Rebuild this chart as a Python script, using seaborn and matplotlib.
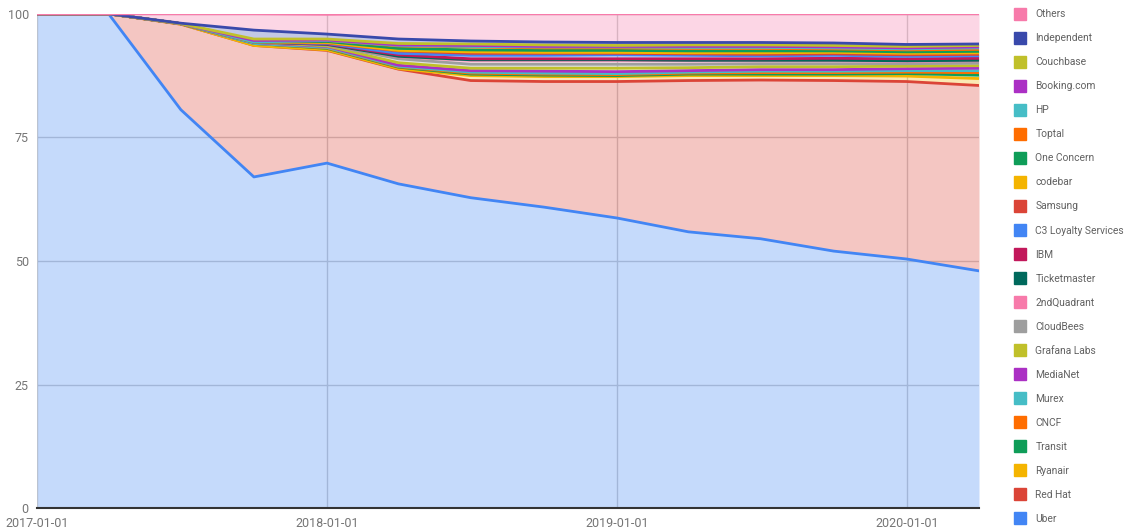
import matplotlib
matplotlib.use('Agg')
import numpy as np
import pandas as pd
import matplotlib.pyplot as plt
import matplotlib.dates as mdates
from matplotlib.lines import Line2D
import seaborn as sns

# quarterly snapshots, share of contributors in %
dates = pd.date_range("2017-01-01", periods=14, freq="QS")

# stacking order: bottom first
uber         = [100, 100, 80.6, 67.0, 69.8, 65.6, 62.8, 60.9, 58.7, 55.9, 54.5, 52.0, 50.4, 48.0]
red_hat      = [0, 0, 17.3, 26.6, 22.8, 23.2, 23.7, 25.4, 27.6, 30.6, 32.1, 34.5, 35.9, 37.5]
ryanair      = [0, 0, 0, 0, 0.1, 0.1, 1.0, 1.0, 1.0, 1.0, 0.9, 1.0, 1.1, 1.4]
transit      = [0, 0, 0.1, 0.4, 0.3, 0.3, 0.3, 0.3, 0.2, 0.3, 0.3, 0.3, 0.5, 0.7]
cncf         = [0, 0, 0, 0, 0.1, 0.1, 0.2, 0.2, 0.2, 0.2, 0.3, 0.3, 0.3, 0.5]
murex        = [0, 0, 0, 0, 0.1, 0.1, 0.2, 0.2, 0.2, 0.2, 0.3, 0.3, 0.3, 0.4]
medianet     = [0, 0, 0, 0.2, 0.2, 0.2, 0.3, 0.4, 0.4, 0.3, 0.3, 0.3, 0.4, 0.5]
grafana      = [0, 0, 0, 0.1, 0.1, 0.5, 0.5, 0.6, 0.7, 0.6, 0.6, 0.6, 0.5, 0.5]
cloudbees    = [0, 0, 0, 0, 0.2, 0.8, 0.8, 0.8, 0.8, 0.7, 0.6, 0.6, 0.5, 0.5]
second_quad  = [0, 0, 0, 0, 0.1, 0.4, 0.8, 0.8, 0.8, 0.7, 0.6, 0.6, 0.5, 0.5]
ticketmaster = [0, 0, 0, 0, 0, 0.1, 0.1, 0.1, 0.1, 0.1, 0.1, 0.1, 0.1, 0.1]
ibm          = [0, 0, 0, 0, 0.1, 0.3, 0.2, 0.2, 0.2, 0.3, 0.3, 0.4, 0.4, 0.4]
c3_loyalty   = [0, 0, 0, 0, 0.1, 0.3, 0.7, 0.7, 0.8, 0.7, 0.6, 0.6, 0.5, 0.5]
samsung      = [0, 0, 0, 0, 0.1, 0.5, 0.4, 0.4, 0.3, 0.3, 0.3, 0.3, 0.3, 0.3]
codebar      = [0, 0, 0, 0, 0.1, 0.1, 0.3, 0.2, 0.2, 0.2, 0.3, 0.3, 0.3, 0.3]
one_concern  = [0, 0, 0, 0, 0.2, 0.4, 0.4, 0.4, 0.4, 0.4, 0.4, 0.3, 0.3, 0.3]
toptal       = [0, 0, 0, 0, 0.2, 0.5, 0.6, 0.5, 0.5, 0.5, 0.5, 0.4, 0.4, 0.4]
hp           = [0, 0, 0, 0, 0, 0.1, 0.1, 0.2, 0.2, 0.2, 0.2, 0.2, 0.2, 0.3]
booking      = [0, 0, 0, 0.3, 0.1, 0.1, 0.2, 0.1, 0.1, 0.2, 0.2, 0.2, 0.2, 0.2]
couchbase    = [0, 0, 0, 0.3, 0.2, 0.3, 0.3, 0.3, 0.2, 0.3, 0.3, 0.3, 0.3, 0.3]
independent  = [0, 0, 0.1, 1.8, 1.0, 0.9, 0.6, 0.6, 0.6, 0.5, 0.5, 0.5, 0.4, 0.3]
others       = [0, 0, 1.9, 3.3, 4.0, 5.1, 5.5, 5.7, 5.8, 5.8, 5.8, 5.9, 6.2, 6.1]

series = [
    ("Uber", uber), ("Red Hat", red_hat), ("Ryanair", ryanair), ("Transit", transit),
    ("CNCF", cncf), ("Murex", murex), ("MediaNet", medianet), ("Grafana Labs", grafana),
    ("CloudBees", cloudbees), ("2ndQuadrant", second_quad), ("Ticketmaster", ticketmaster),
    ("IBM", ibm), ("C3 Loyalty Services", c3_loyalty), ("Samsung", samsung),
    ("codebar", codebar), ("One Concern", one_concern), ("Toptal", toptal), ("HP", hp),
    ("Booking.com", booking), ("Couchbase", couchbase), ("Independent", independent),
    ("Others", others),
]

colors = {
    "Uber": "#4285F4", "Red Hat": "#DB4437", "Ryanair": "#F4B400", "Transit": "#0F9D58",
    "CNCF": "#FF6D00", "Murex": "#46BDC6", "MediaNet": "#AB30C4", "Grafana Labs": "#C0C02A",
    "CloudBees": "#9E9E9E", "2ndQuadrant": "#F77AAA", "Ticketmaster": "#00695C",
    "IBM": "#C2185B", "C3 Loyalty Services": "#4285F4", "Samsung": "#DB4437",
    "codebar": "#F4B400", "One Concern": "#0F9D58", "Toptal": "#FF6D00", "HP": "#46BDC6",
    "Booking.com": "#AB30C4", "Couchbase": "#C0C02A", "Independent": "#3949AB",
    "Others": "#F77AAA",
}

sns.set_theme(style="white")
plt.rcParams['font.family'] = ['Roboto', 'DejaVu Sans']

fig, ax = plt.subplots(figsize=(11.24, 5.31), dpi=100)
fig.subplots_adjust(left=0.033, right=0.871, top=0.974, bottom=0.043)

# stacked fills + collect top edges for the lines
bottom = np.zeros(len(dates))
rows = []
for name, vals in series:
    top = bottom + np.array(vals, dtype=float)
    ax.fill_between(dates, bottom, top, color=colors[name], alpha=0.3, lw=0, zorder=1)
    rows += [dict(date=d, value=v, company=name) for d, v in zip(dates, top)]
    bottom = top
tops = pd.DataFrame(rows)

names = [n for n, _ in series]
sns.lineplot(data=tops, x="date", y="value", hue="company", hue_order=names,
             palette=colors, lw=2, legend=False, ax=ax, zorder=3)

# axes styling
ax.set_xlim(dates[0], dates[-1])
ax.set_ylim(0, 100)
ax.set_yticks([0, 25, 50, 75, 100])
ax.set_xticks(pd.to_datetime(["2017-01-01", "2018-01-01", "2019-01-01", "2020-01-01"]))
ax.xaxis.set_major_formatter(mdates.DateFormatter("%Y-%m-%d"))
ax.set_xlabel("")
ax.set_ylabel("")
ax.grid(True, color="#cccccc", lw=1)
ax.set_axisbelow(True)
ax.tick_params(length=0, labelsize=9, labelcolor="#757575", pad=6)
for s in ["top", "right", "left"]:
    ax.spines[s].set_visible(False)
ax.spines["bottom"].set_color("#333333")
ax.spines["bottom"].set_linewidth(1.5)
ax.spines["bottom"].set_zorder(5)

# legend on the right, top entry is the top of the stack
handles = [Line2D([0], [0], marker="s", ls="none", markersize=9,
                  markerfacecolor=colors[n], markeredgecolor=colors[n]) for n in names[::-1]]
fig.legend(handles, names[::-1], loc="upper left", bbox_to_anchor=(1006 / 1124, 1.0),
           frameon=False, fontsize=7.4, labelspacing=1.365, handlelength=1.0,
           handletextpad=0.95, labelcolor="#616161")

plt.savefig("out.png", dpi=100)
plt.close()
